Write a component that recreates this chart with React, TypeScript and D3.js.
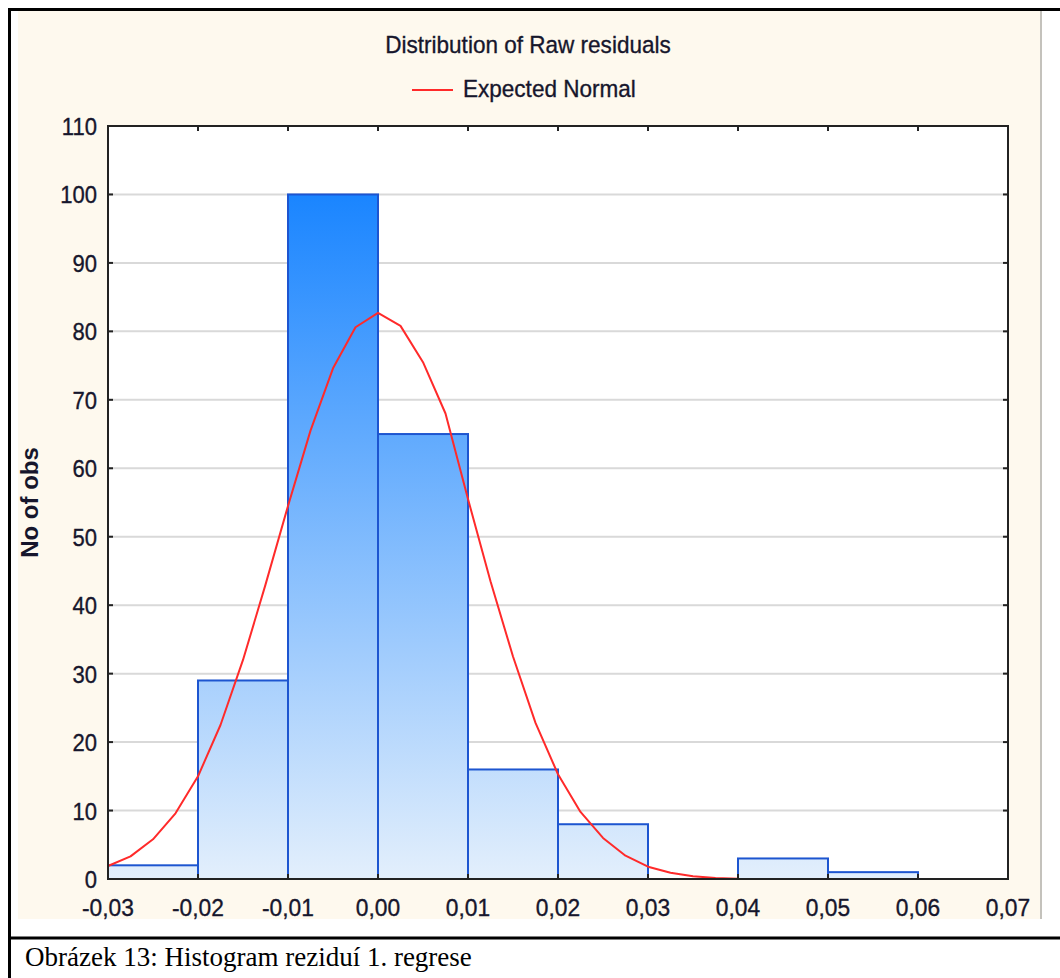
import React from 'react';
import * as d3 from 'd3';

// histogram bins (lower edge) and counts
const binStarts = [-0.03, -0.02, -0.01, 0.0, 0.01, 0.02, 0.03, 0.04, 0.05, 0.06];
const binCounts = [2, 29, 100, 65, 16, 8, 0, 3, 1, 0];
const binWidth = 0.01;

// expected normal curve
const curveX = [
  -0.03, -0.0275, -0.025, -0.0225, -0.02, -0.0175, -0.015, -0.0125, -0.01, -0.0075,
  -0.005, -0.0025, 0.0, 0.0025, 0.005, 0.0075, 0.01, 0.0125, 0.015, 0.0175,
  0.02, 0.0225, 0.025, 0.0275, 0.03, 0.0325, 0.035, 0.0375, 0.04,
];
const curveY = [
  1.9, 3.3, 5.8, 9.6, 15.0, 22.5, 32.0, 43.0, 54.5, 65.5,
  74.6, 80.6, 82.7, 80.8, 75.5, 68.0, 55.5, 43.5, 32.5, 22.8,
  15.3, 9.8, 6.0, 3.4, 1.8, 0.9, 0.4, 0.15, 0.05,
];

const xTicks = [-0.03, -0.02, -0.01, 0.0, 0.01, 0.02, 0.03, 0.04, 0.05, 0.06, 0.07];
const yTicks = [0, 10, 20, 30, 40, 50, 60, 70, 80, 90, 100, 110];

const title = 'Distribution of Raw residuals';
const legendLabel = 'Expected Normal';
const yLabel = 'No of obs';
const caption = 'Obrázek 13: Histogram reziduí 1. regrese';

const W = 1060;
const H = 978;
const plot = { left: 108, top: 126, right: 1008, bottom: 879 };
const textColor = '#16162c';
const sans = '"Liberation Sans", Arial, sans-serif';

// text drawn a bit taller than wide, like the squeezed screenshot
function Label(props: { x: number; y: number; anchor?: string; size?: number; sx?: number; children: any }) {
  const { x, y, anchor = 'start', size = 24, sx = 0.93 } = props;
  return (
    <text
      transform={`translate(${x},${y}) scale(${sx},1)`}
      textAnchor={anchor}
      fontFamily={sans}
      fontSize={size}
      fill={textColor}
      stroke={textColor}
      strokeWidth={0.35}
    >
      {props.children}
    </text>
  );
}

export default function App() {
  const x = d3.scaleLinear().domain([-0.03, 0.07]).range([plot.left, plot.right]);
  const y = d3.scaleLinear().domain([0, 110]).range([plot.bottom, plot.top]);

  const fmt = (v: number) => d3.format('.2f')(v).replace('.', ',').replace('−', '-');

  const line = d3
    .line<number>()
    .x((_, i) => x(curveX[i]))
    .y((d) => y(d))
    .curve(d3.curveLinear);

  const tickLen = 5;

  return (
    <svg
      width={W}
      height={H}
      style={{ position: 'absolute', left: 0, top: 0, background: '#fff' }}
    >
      <defs>
        <linearGradient
          id="barGrad"
          gradientUnits="userSpaceOnUse"
          x1={0}
          x2={0}
          y1={y(100)}
          y2={y(0)}
        >
          <stop offset="0%" stopColor="#1a85ff" />
          <stop offset="100%" stopColor="#e3effc" />
        </linearGradient>
      </defs>

      {/* cream panel */}
      <rect x={18} y={11} width={1022} height={908} fill="#fef9ee" />
      <line x1={1041} x2={1041} y1={11} y2={919} stroke="#c4c2bc" strokeWidth={2} />

      {/* document frame */}
      <line x1={9.5} x2={9.5} y1={8} y2={H} stroke="#000" strokeWidth={3} />
      <line x1={8} x2={W} y1={9.5} y2={9.5} stroke="#000" strokeWidth={3} />
      <line x1={8} x2={W} y1={938} y2={938} stroke="#000" strokeWidth={3} />

      {/* title and legend */}
      <Label x={528} y={53} anchor="middle" size={24.5} sx={0.92}>
        {title}
      </Label>
      <line x1={412} x2={453} y1={90} y2={90} stroke="#ff2a2a" strokeWidth={2} />
      <Label x={463} y={97} size={24.5} sx={0.92}>
        {legendLabel}
      </Label>

      {/* plot area */}
      <rect
        x={plot.left}
        y={plot.top}
        width={plot.right - plot.left}
        height={plot.bottom - plot.top}
        fill="#fff"
      />
      {yTicks
        .filter((t) => t > 0 && t < 110)
        .map((t) => (
          <line
            key={'g' + t}
            x1={plot.left}
            x2={plot.right}
            y1={y(t)}
            y2={y(t)}
            stroke="#d9d9d9"
            strokeWidth={2}
          />
        ))}

      {/* bars */}
      {binStarts.map((b, i) =>
        binCounts[i] > 0 ? (
          <rect
            key={'b' + i}
            x={x(b)}
            y={y(binCounts[i])}
            width={x(b + binWidth) - x(b)}
            height={y(0) - y(binCounts[i])}
            fill="url(#barGrad)"
            stroke="#1d55d0"
            strokeWidth={2}
          />
        ) : null
      )}

      {/* expected normal */}
      <path d={line(curveY) || ''} fill="none" stroke="#ff2a2a" strokeWidth={2} strokeLinejoin="round" />

      {/* frame and ticks */}
      <rect
        x={plot.left}
        y={plot.top}
        width={plot.right - plot.left}
        height={plot.bottom - plot.top}
        fill="none"
        stroke="#222"
        strokeWidth={2}
      />
      {xTicks.map((t) => (
        <g key={'xt' + t}>
          <line x1={x(t)} x2={x(t)} y1={plot.bottom} y2={plot.bottom - tickLen} stroke="#222" strokeWidth={2} />
          <line x1={x(t)} x2={x(t)} y1={plot.top} y2={plot.top + tickLen} stroke="#222" strokeWidth={2} />
          <Label x={x(t)} y={916} anchor="middle" size={24} sx={0.95}>
            {fmt(t)}
          </Label>
        </g>
      ))}
      {yTicks.map((t) => (
        <g key={'yt' + t}>
          <line x1={plot.left} x2={plot.left + tickLen} y1={y(t)} y2={y(t)} stroke="#222" strokeWidth={2} />
          <line x1={plot.right} x2={plot.right - tickLen} y1={y(t)} y2={y(t)} stroke="#222" strokeWidth={2} />
          <Label x={97} y={y(t) + 9} anchor="end" size={24.5} sx={0.9}>
            {t}
          </Label>
        </g>
      ))}

      {/* y axis label */}
      <text
        transform={`translate(38, ${(plot.top + plot.bottom) / 2}) rotate(-90)`}
        textAnchor="middle"
        fontFamily={sans}
        fontSize={24}
        fontWeight="bold"
        fill={textColor}
      >
        {yLabel}
      </text>

      {/* caption */}
      <text x={25} y={966} fontFamily='"Liberation Serif", "Times New Roman", serif' fontSize={27} fill="#000">
        {caption}
      </text>
    </svg>
  );
}
